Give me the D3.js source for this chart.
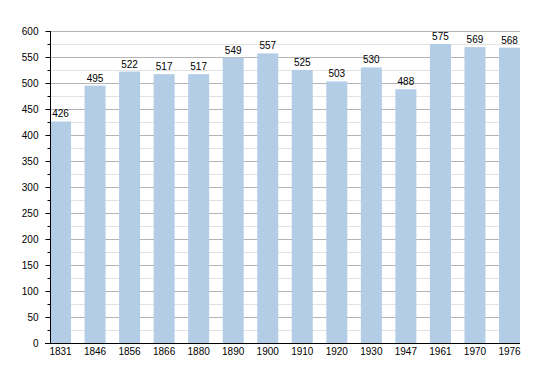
<!DOCTYPE html>
<html>
<head>
<meta charset="utf-8">
<script src="https://cdn.jsdelivr.net/npm/d3@7"></script>
<style>
  body { margin: 0; background: #fff; }
  text { font-family: "Liberation Sans", Arial, sans-serif; font-size: 10px; fill: #000; }
</style>
</head>
<body>
<div id="chart"></div>
<script>
// years and population values
var years = ["1831", "1846", "1856", "1866", "1880", "1890", "1900", "1910", "1920", "1930", "1947", "1961", "1970", "1976"];
var population = [426, 495, 522, 517, 517, 549, 557, 525, 503, 530, 488, 575, 569, 568];
var yTicks = [0, 50, 100, 150, 200, 250, 300, 350, 400, 450, 500, 550, 600];

function init() {
  var w = 550, h = 373;
  var left = 50, right = 520, top = 31, bottom = 343;
  var barW = 21;

  var svg = d3.select("#chart").append("svg")
    .attr("width", w)
    .attr("height", h);

  var yScale = d3.scaleLinear().domain([0, 600]).range([bottom, top]);

  // step so that last bar ends at the right edge
  var xScale = d3.scalePoint().domain(years).range([left, right - barW]);

  // minor grid every 25
  var minor = d3.range(25, 600, 50);
  svg.append("g").selectAll("line")
    .data(minor).enter().append("line")
    .attr("x1", left).attr("x2", right)
    .attr("y1", function(d) { return Math.round(yScale(d)) + 0.5; })
    .attr("y2", function(d) { return Math.round(yScale(d)) + 0.5; })
    .attr("stroke", "#e2e2e2");

  // major grid every 50
  svg.append("g").selectAll("line")
    .data(yTicks.slice(1)).enter().append("line")
    .attr("x1", left).attr("x2", right)
    .attr("y1", function(d) { return Math.round(yScale(d)) + 0.5; })
    .attr("y2", function(d) { return Math.round(yScale(d)) + 0.5; })
    .attr("stroke", "#b4b4b4");

  // bars
  svg.selectAll("rect.bar")
    .data(population).enter().append("rect")
    .attr("class", "bar")
    .attr("x", function(d, i) { return xScale(years[i]); })
    .attr("y", function(d) { return yScale(d); })
    .attr("width", barW)
    .attr("height", function(d) { return bottom - yScale(d); })
    .attr("fill", "#b3cde6");

  // value labels
  svg.selectAll("text.val")
    .data(population).enter().append("text")
    .attr("class", "val")
    .attr("x", function(d, i) { return xScale(years[i]) + barW / 2; })
    .attr("y", function(d) { return yScale(d) - 4; })
    .attr("text-anchor", "middle")
    .text(function(d) { return d; });

  // y axis with minor ticks
  var yAxis = d3.axisLeft(yScale).tickValues(yTicks).tickSize(5).tickPadding(7);
  var ya = svg.append("g")
    .attr("transform", "translate(" + (left + 0.5) + ",0)")
    .call(yAxis);
  ya.select(".domain").attr("d", "M0," + top + "V" + bottom);
  ya.selectAll("text").style("font-size", "10px");

  svg.append("g").selectAll("line")
    .data(minor).enter().append("line")
    .attr("x1", left - 2.5).attr("x2", left)
    .attr("y1", function(d) { return Math.round(yScale(d)) + 0.5; })
    .attr("y2", function(d) { return Math.round(yScale(d)) + 0.5; })
    .attr("stroke", "#000");

  // x axis
  svg.append("line")
    .attr("x1", left - 5).attr("x2", right)
    .attr("y1", bottom + 0.5).attr("y2", bottom + 0.5)
    .attr("stroke", "#000");

  svg.selectAll("text.xl")
    .data(years).enter().append("text")
    .attr("class", "xl")
    .attr("x", function(d) { return xScale(d) + barW / 2; })
    .attr("y", bottom + 12)
    .attr("text-anchor", "middle")
    .text(function(d) { return d; });
}

window.onload = init;
</script>
</body>
</html>
